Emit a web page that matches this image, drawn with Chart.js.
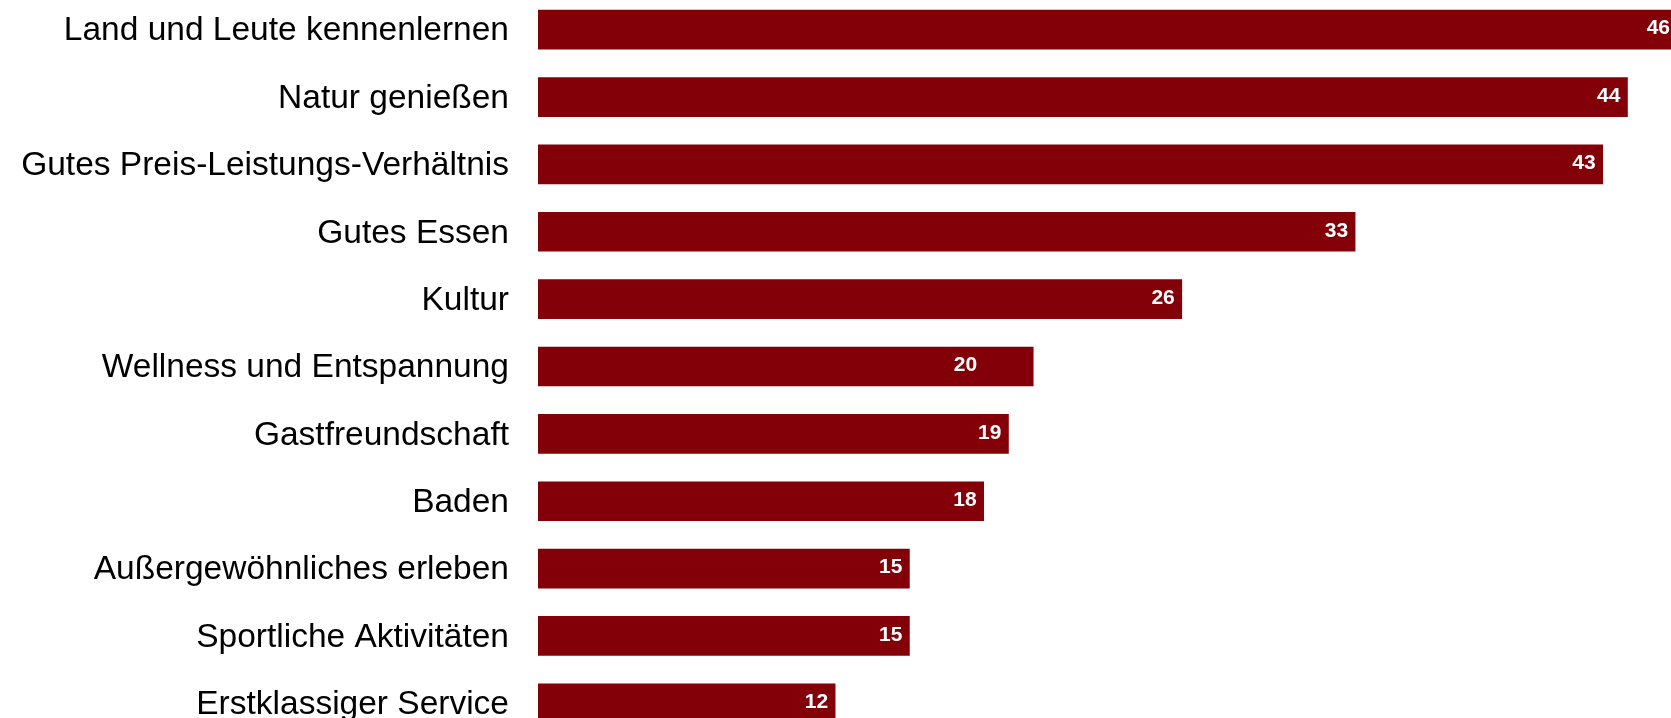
<!DOCTYPE html>
<html lang="de">
<head>
<meta charset="utf-8">
<title>Urlaubsmotive</title>
<script src="https://cdn.jsdelivr.net/npm/chart.js@4.4.1/dist/chart.umd.min.js"></script>
<style>
    html, body {
        margin: 0;
        padding: 0;
        background: #fff;
        overflow: hidden;
        width: 1671px;
        height: 718px;
    }
    .chart-wrap {
        position: absolute;
        left: 0;
        top: -4px;
        width: 1677px;
        height: 741px;
    }
</style>
</head>
<body>
<div class="chart-wrap"><canvas id="motiveChart"></canvas></div>
<script>
const categories = [
    'Land und Leute kennenlernen',
    'Natur genießen',
    'Gutes Preis-Leistungs-Verhältnis',
    'Gutes Essen',
    'Kultur',
    'Wellness und Entspannung',
    'Gastfreundschaft',
    'Baden',
    'Außergewöhnliches erleben',
    'Sportliche Aktivitäten',
    'Erstklassiger Service'
];
const values = [46, 44, 43, 33, 26, 20, 19, 18, 15, 15, 12];

const barColor = 'rgb(132, 0, 8)';

// white value labels inside the bar ends
const valueLabels = {
    id: 'valueLabels',
    afterDatasetsDraw(chart, args, opts) {
        const ctx = chart.ctx;
        const meta = chart.getDatasetMeta(0);
        ctx.save();
        ctx.font = 'bold 21px "Liberation Sans", Arial, sans-serif';
        ctx.fillStyle = '#fff';
        ctx.textAlign = 'right';
        ctx.textBaseline = 'middle';
        meta.data.forEach(function (bar, i) {
            const shift = (opts.shift && opts.shift[i]) || 0;
            ctx.fillText(String(values[i]), bar.x - 7 + shift, bar.y - 1);
        });
        ctx.restore();
    }
};

document.addEventListener('DOMContentLoaded', function () {
    const ctx = document.getElementById('motiveChart').getContext('2d');
    new Chart(ctx, {
        type: 'bar',
        data: {
            labels: categories,
            datasets: [{
                data: values,
                backgroundColor: barColor,
                borderWidth: 0,
                barThickness: 39
            }]
        },
        options: {
            indexAxis: 'y',
            responsive: true,
            maintainAspectRatio: false,
            animation: false,
            layout: { padding: 0 },
            plugins: {
                legend: { display: false },
                tooltip: { enabled: false },
                valueLabels: { shift: { 5: -49 } }
            },
            scales: {
                x: {
                    display: false,
                    min: 0,
                    max: 46
                },
                y: {
                    border: { display: false },
                    grid: { display: false, drawTicks: false },
                    ticks: {
                        autoSkip: false,
                        padding: 29,
                        labelOffset: 1.5,
                        color: '#000',
                        font: { family: '"Liberation Sans", Arial, sans-serif', size: 33.5 }
                    },
                    afterFit: function (scale) {
                        // fixed label column, bars run the full height
                        scale.width = 538;
                        scale.paddingTop = 0;
                        scale.paddingBottom = 0;
                    }
                }
            }
        },
        plugins: [valueLabels]
    });
});
</script>
</body>
</html>
